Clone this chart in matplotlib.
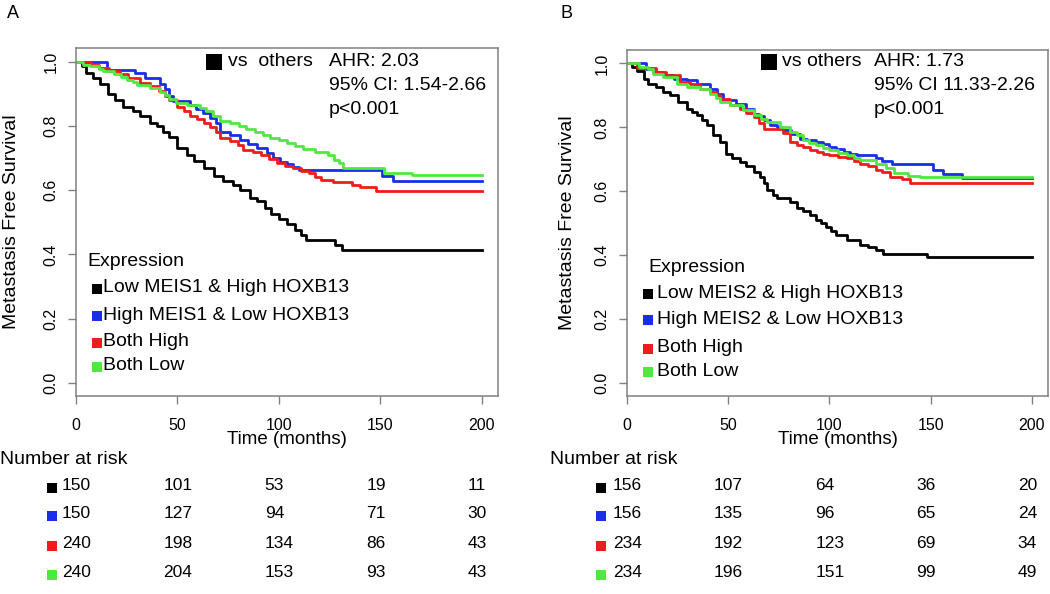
import numpy as np
import matplotlib.pyplot as plt
import matplotlib.patches as mpatches
import matplotlib.transforms as mtransforms

plt.rcParams['font.family'] = ['Liberation Sans', 'DejaVu Sans']

# ---- panel A: MEIS1 / HOXB13 ----
a_black_t = [0, 3, 5, 8.5, 12, 16, 19, 23, 28, 31.5, 36.5, 40, 43, 46, 50, 54.5, 58, 63, 68, 72.5,
             77.5, 81, 86, 89, 93, 96, 100, 104, 108, 111, 113.5, 127.5, 131, 200]
a_black_s = [1.0, 0.985, 0.965, 0.95, 0.93, 0.90, 0.88, 0.86, 0.845, 0.83, 0.81, 0.80, 0.78, 0.765, 0.73,
             0.71, 0.69, 0.67, 0.645, 0.63, 0.615, 0.60, 0.575, 0.565, 0.545, 0.525, 0.51, 0.495, 0.475,
             0.46, 0.445, 0.43, 0.414, 0.414]
a_blue_t = [0, 15.5, 29, 34, 41.5, 44, 46, 48, 56, 59, 62.5, 66, 69, 71, 76, 81, 85, 89, 94, 97,
            100.5, 104, 107, 110, 151, 156, 200]
a_blue_s = [1.0, 0.975, 0.965, 0.95, 0.93, 0.913, 0.892, 0.876, 0.866, 0.853, 0.84, 0.825, 0.81, 0.78,
            0.77, 0.757, 0.745, 0.731, 0.715, 0.70, 0.689, 0.68, 0.672, 0.662, 0.645, 0.63, 0.63]
a_red_t = [0, 7.5, 11.5, 16.5, 21.5, 25.5, 31.5, 36.5, 41, 44, 46, 50, 53, 56, 59.5, 63, 66, 69, 71,
           76, 80, 82.5, 87, 91, 95, 99, 103, 107, 111, 115, 118, 121, 126.5, 136, 140, 148, 200]
a_red_s = [1.0, 0.99, 0.98, 0.97, 0.96, 0.95, 0.934, 0.923, 0.907, 0.893, 0.88, 0.86, 0.845, 0.832,
           0.82, 0.81, 0.797, 0.78, 0.762, 0.752, 0.74, 0.726, 0.718, 0.71, 0.697, 0.684, 0.676, 0.669,
           0.66, 0.653, 0.642, 0.632, 0.624, 0.617, 0.61, 0.597, 0.597]
a_green_t = [0, 3.5, 7, 11.5, 13.5, 18.5, 22, 25, 28, 30, 36.5, 41.5, 44, 46, 49.5, 54.5, 61, 64,
             67.5, 71, 76, 80.5, 84, 88, 92, 95.5, 100, 104, 108, 112, 118, 124, 127, 129.5, 131.5,
             152, 165.5, 200]
a_green_s = [1.0, 0.99, 0.985, 0.978, 0.97, 0.962, 0.952, 0.944, 0.935, 0.928, 0.918, 0.905, 0.895,
             0.882, 0.871, 0.865, 0.855, 0.845, 0.83, 0.815, 0.81, 0.80, 0.79, 0.78, 0.77, 0.762,
             0.755, 0.746, 0.736, 0.728, 0.72, 0.708, 0.695, 0.685, 0.67, 0.654, 0.648, 0.648]

# ---- panel B: MEIS2 / HOXB13 ----
b_black_t = [0, 2.5, 5, 8.5, 10.5, 14.5, 18, 21, 25, 29.5, 32, 34.5, 37, 39.5, 42.5, 46, 49, 52, 56,
             59, 62.5, 65.5, 67.5, 69, 72, 74, 80.5, 84, 87, 90.5, 93.5, 96, 98.5, 101, 103.5, 108.5,
             115, 119, 123, 126.5, 148, 200]
b_black_s = [1.0, 0.99, 0.975, 0.952, 0.937, 0.926, 0.91, 0.90, 0.88, 0.859, 0.848, 0.838, 0.822,
             0.807, 0.776, 0.755, 0.718, 0.705, 0.693, 0.678, 0.662, 0.645, 0.625, 0.604, 0.59, 0.578,
             0.568, 0.547, 0.537, 0.526, 0.511, 0.50, 0.49, 0.477, 0.464, 0.449, 0.433, 0.425, 0.417,
             0.405, 0.395, 0.395]
b_blue_t = [0, 9.5, 13, 18, 23, 29.5, 34.5, 41, 44.5, 47.5, 54, 59, 62.5, 65, 67.5, 70.5, 74, 77,
            81, 85.5, 89, 93.5, 97, 100, 103.5, 107, 110, 113.5, 123, 126, 131, 151, 156, 165.5, 200]
b_blue_s = [1.0, 0.983, 0.973, 0.963, 0.952, 0.947, 0.937, 0.921, 0.905, 0.885, 0.874, 0.859, 0.843,
            0.835, 0.822, 0.807, 0.80, 0.791, 0.778, 0.765, 0.76, 0.755, 0.747, 0.739, 0.731, 0.724,
            0.718, 0.713, 0.705, 0.696, 0.687, 0.667, 0.654, 0.642, 0.642]
b_red_t = [0, 5, 14.5, 19.5, 26, 31, 36, 41, 44, 46, 51, 56, 59, 62.5, 65, 67.5, 77, 80.5, 84, 87,
           90.5, 94, 97, 100, 104, 108.5, 112, 115, 119, 123, 126, 130, 136, 140, 200]
b_red_s = [1.0, 0.986, 0.973, 0.963, 0.942, 0.937, 0.921, 0.91, 0.90, 0.89, 0.869, 0.859, 0.845,
           0.833, 0.815, 0.796, 0.781, 0.755, 0.745, 0.739, 0.73, 0.724, 0.718, 0.713, 0.708, 0.703,
           0.695, 0.687, 0.68, 0.668, 0.661, 0.646, 0.638, 0.627, 0.627]
b_green_t = [0, 6, 10.5, 13, 18, 24.5, 29.5, 36, 41, 44, 46, 51, 57.5, 62.5, 66, 69, 75.5, 80.5, 84,
             87, 90, 93.5, 97, 100, 104, 108.5, 112, 115, 123, 128, 132, 139, 145, 200]
b_green_s = [1.0, 0.99, 0.983, 0.968, 0.957, 0.937, 0.926, 0.921, 0.905, 0.893, 0.88, 0.869, 0.854,
             0.838, 0.826, 0.817, 0.802, 0.786, 0.775, 0.76, 0.752, 0.745, 0.737, 0.729, 0.72, 0.713,
             0.705, 0.698, 0.687, 0.672, 0.658, 0.649, 0.645, 0.645]

a_labels = ['Low MEIS1 & High HOXB13', 'High MEIS1 & Low HOXB13', 'Both High', 'Both Low']
b_labels = ['Low MEIS2 & High HOXB13', 'High MEIS2 & Low HOXB13', 'Both High', 'Both Low']
a_stats = ['AHR: 2.03', '95% CI: 1.54-2.66', 'p<0.001']
b_stats = ['AHR: 1.73', '95% CI 11.33-2.26', 'p<0.001']
risk_times = [0, 50, 100, 150, 200]
a_risk = [[150, 101, 53, 19, 11],
          [150, 127, 94, 71, 30],
          [240, 198, 134, 86, 43],
          [240, 204, 153, 93, 43]]
b_risk = [[156, 107, 64, 36, 20],
          [156, 135, 96, 65, 24],
          [234, 192, 123, 69, 34],
          [234, 196, 151, 99, 49]]

colors = ['#000000', '#1a2de8', '#ee1c1c', '#50e840']

W, H = 1050, 594
fig = plt.figure(figsize=(10.5, 5.94), dpi=100)


def fx(x):
    return x / W


def fy(y):
    return 1 - y / H


def square(x, y, size, color):
    # x, y centre in pixels
    fig.patches.append(mpatches.Rectangle((fx(x - size / 2), fy(y + size / 2)), size / W, size / H,
                                          transform=fig.transFigure, facecolor=color,
                                          edgecolor='none'))


panels = [
    dict(letter='A', letter_x=13, box=(76, 48, 498, 396), ylab_x=-0.133,
         curves=[(a_black_t, a_black_s), (a_blue_t, a_blue_s), (a_red_t, a_red_s), (a_green_t, a_green_s)],
         labels=a_labels, stats=a_stats, risk=a_risk, vs='vs  others',
         vs_sq=214, vs_x=228, stat_x=329,
         leg_x=87, leg_y=[262, 288, 315, 342, 366], leg_sq=97, leg_tx=103,
         nar_x=0, tab_sq=52),
    dict(letter='B', letter_x=567, box=(627, 50, 1048, 396), ylab_x=-0.121,
         curves=[(b_black_t, b_black_s), (b_blue_t, b_blue_s), (b_red_t, b_red_s), (b_green_t, b_green_s)],
         labels=b_labels, stats=b_stats, risk=b_risk, vs='vs others',
         vs_sq=769, vs_x=782, stat_x=874,
         leg_x=648, leg_y=[268, 293, 319, 348, 371], leg_sq=648, leg_tx=657,
         nar_x=550, tab_sq=601),
]

row_y = [485.5, 514, 543.5, 572.5]

for p in panels:
    l, t, r, b = p['box']
    ax = fig.add_axes([fx(l), fy(b), (r - l) / W, (b - t) / H])
    for (tt, ss), c in zip(p['curves'], colors):
        ax.step(tt, ss, where='post', color=c, lw=2.0)
    ax.set_xlim(0, 208)
    ax.set_ylim(-0.04, 1.042)
    ax.set_xticks(risk_times)
    ax.set_yticks([0.0, 0.2, 0.4, 0.6, 0.8, 1.0])
    ax.set_yticklabels(['0.0', '0.2', '0.4', '0.6', '0.8', '1.0'], rotation=90, va='center')
    ax.tick_params(direction='out', length=5.5, width=1, color='#808080', labelsize=11.5)
    ax.tick_params(axis='x', pad=10)
    ax.tick_params(axis='y', pad=7)
    for sp in ax.spines.values():
        sp.set_color('#808080')
        sp.set_linewidth(1.1)
    ax.set_ylabel('Metastasis Free Survival', fontsize=14)
    ax.yaxis.set_label_coords(p['ylab_x'], 0.5)

    fig.text(fx(p['letter_x']), fy(14), p['letter'], fontsize=13, ha='center', va='center')
    fig.text(fx((l + r) / 2), fy(439), 'Time (months)', fontsize=13.5, ha='center', va='center')

    # hazard ratio note
    square(p['vs_sq'], 61.5, 16, 'black')
    fig.text(fx(p['vs_x']), fy(62), p['vs'], fontsize=14, va='center')
    for i, s in enumerate(p['stats']):
        fig.text(fx(p['stat_x']), fy(62 + 24 * i), s, fontsize=14, va='center')

    # legend
    fig.text(fx(p['leg_x']), fy(p['leg_y'][0]), 'Expression', fontsize=14, va='center')
    for lab, c, yy in zip(p['labels'], colors, p['leg_y'][1:]):
        square(p['leg_sq'], yy + 1, 10, c)
        fig.text(fx(p['leg_tx']), fy(yy), lab, fontsize=14, va='center')

    # number at risk table
    fig.text(fx(p['nar_x']), fy(459.5), 'Number at risk', fontsize=14, va='center')
    trans = mtransforms.blended_transform_factory(ax.transData, fig.transFigure)
    for row, c, yy in zip(p['risk'], colors, row_y):
        square(p['tab_sq'], yy + 2, 10, c)
        for tm, n in zip(risk_times, row):
            ax.text(tm - 7, fy(yy), str(n), transform=trans, fontsize=12.5, va='center',
                    ha='left', clip_on=False)

fig.savefig('out.png', dpi=100)
